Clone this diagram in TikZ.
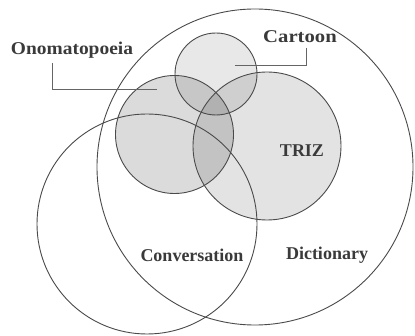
\documentclass[tikz,border=0pt]{standalone}
\usepackage{fontspec}
\setmainfont{Liberation Serif}
\usetikzlibrary{positioning}
\definecolor{ink}{HTML}{4A4A4A}
\definecolor{txt}{HTML}{3A3A3A}
\tikzset{
  set/.style={draw=ink, line width=0.9pt},
  lead/.style={draw=ink!85, line width=0.8pt},
  lbl/.style={text=txt, font=\bfseries\fontsize{18}{20}\selectfont, inner sep=0pt},
}
\begin{document}
\begin{tikzpicture}[x=1pt, y=-1pt]
  \useasboundingbox (0,0) rectangle (415,336);
  % shaded sets, darker where they overlap
  \fill[black, opacity=0.14] (174.5,134.5) circle (59);
  \fill[black, opacity=0.09] (216,74) circle (41);
  \fill[black, opacity=0.11] (267,146) circle (74);
  % outlines
  \draw[set] (255,167) circle (158);
  \draw[set] (147,224) circle (110);
  \draw[set] (174.5,134.5) circle (59);
  \draw[set] (216,74) circle (41);
  \draw[set] (267,146) circle (74);
  % labels
  \node[lbl] (ono) at (72,50) {\scalebox{1.08}[1]{Onomatopoeia}};
  \node[lbl] (cart) at (300,37) {\scalebox{1.15}[1]{Cartoon}};
  \node[lbl] (triz) at (302,151) {TRIZ};
  \node[lbl] (conv) at (192,255) {Conversation};
  \node[lbl] (dict) at (327,255) {Dictionary};
  % leader lines
  \coordinate (onoEnd) at (157,89);
  \coordinate (cartEnd) at (235,65);
  \draw[lead] (52,63) |- (onoEnd);
  \draw[lead] (306,48) |- (cartEnd);
\end{tikzpicture}
\end{document}
